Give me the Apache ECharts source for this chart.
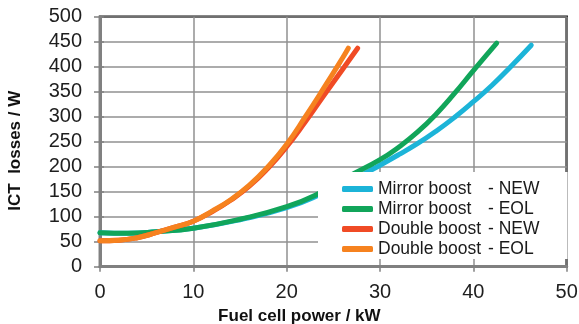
<!DOCTYPE html>
<html>
<head>
<meta charset="utf-8">
<style>html,body{margin:0;padding:0;background:#fff}#c{width:579px;height:324px}</style>
<script src="https://cdn.jsdelivr.net/npm/echarts@6/dist/echarts.min.js"></script>
</head>
<body>
<div id="c"></div>
<script>
// Data
const xTicks = [0, 10, 20, 30, 40, 50];
const yTicks = [0, 50, 100, 150, 200, 250, 300, 350, 400, 450, 500];
const seriesNames = ['Mirror boost|- NEW', 'Mirror boost|- EOL', 'Double boost|- NEW', 'Double boost|- EOL'];
const mirrorNew = [[0,68],[3,67],[6,70],[10,77],[15,94],[20,118],[24,148],[28,183],[30,203],[32,224],[34,246],[36,271],[38,299],[40,330],[42,363],[44,400],[46.2,443]];
const mirrorEol = [[0,68],[3,67],[6,70],[10,77],[15,95],[20,120],[23.5,147],[26.5,179],[30,214],[32,239],[34,269],[36,305],[38,347],[40,392],[42.5,447]];
const doubleNew = [[0,52],[2,53],[4,58],[6,68],[8,79],[10,91],[12,110],[14,133],[16,161],[18,197],[20,240],[22,290],[24,343],[26,395],[27.6,437]];
const doubleEol = [[0,52],[2,53],[4,58],[6,68],[8,79],[10,91],[12,111],[14,134],[16,163],[18,200],[20,245],[22,300],[24,358],[26,418],[26.6,437]];
const colors = ['#1cb4d8', '#11a55a', '#f04b25', '#f6821f'];

const font = '"Liberation Sans", Arial, sans-serif';
const chart = echarts.init(document.getElementById('c'));
const allData = [mirrorNew, mirrorEol, doubleNew, doubleEol];

chart.setOption({
  animation: false,
  backgroundColor: '#fff',
  grid: { left: 100, right: 12.3, top: 16.7, bottom: 57.3, show: true, borderColor: '#111', borderWidth: 2.5, containLabel: false, outerBoundsMode: 'none' },
  xAxis: [{
    type: 'value', min: xTicks[0], max: xTicks[xTicks.length - 1], interval: 10,
    name: 'Fuel cell power / kW', nameLocation: 'middle', nameGap: 38,
    nameTextStyle: { fontFamily: font, fontWeight: 'bold', fontSize: 17, color: '#111', padding: [0, 68, 0, 0] },
    axisLine: { show: true, onZero: false, lineStyle: { color: '#808080', width: 3 } },
    axisTick: { show: true, inside: false, length: 5, lineStyle: { color: '#808080', width: 1.5 } },
    axisLabel: { fontFamily: font, fontSize: 20, color: '#1e1e1e', margin: 16 },
    splitLine: { show: true, lineStyle: { color: '#919191', width: 1.5 } }
  }],
  yAxis: [{
    type: 'value', min: yTicks[0], max: yTicks[yTicks.length - 1], interval: 50,
    name: 'ICT  losses / W', nameLocation: 'middle', nameGap: 76, nameRotate: 90,
    nameTextStyle: { fontFamily: font, fontWeight: 'bold', fontSize: 17, color: '#111', padding: [0, 18, 0, 0] },
    axisLine: { show: true, onZero: false, lineStyle: { color: '#808080', width: 3 } },
    axisTick: { show: true, inside: false, length: 6, lineStyle: { color: '#808080', width: 1.5 } },
    axisLabel: { fontFamily: font, fontSize: 20, color: '#1e1e1e', margin: 18 },
    splitLine: { show: true, lineStyle: { color: '#919191', width: 1.5 } }
  }, {
    type: 'value', min: yTicks[0], max: yTicks[yTicks.length - 1], interval: 50, position: 'right',
    axisLine: { show: false },
    axisTick: { show: true, inside: false, length: 4, lineStyle: { color: '#808080', width: 1.5 } },
    axisLabel: { show: false },
    splitLine: { show: false }
  }],
  legend: {
    orient: 'vertical', left: 318, top: 172,
    padding: [8, 28, 1, 24], itemGap: 2,
    backgroundColor: '#fff',
    itemWidth: 31, itemHeight: 6, icon: 'roundRect',
    data: seriesNames,
    formatter: function (n) { const p = n.split('|'); return '{a|' + p[0] + '}{b|' + p[1] + '}'; },
    textStyle: {
      fontFamily: font, fontSize: 17.5, color: '#1a1a1a',
      rich: {
        a: { width: 110, fontFamily: font, fontSize: 17.5, lineHeight: 20, color: '#1a1a1a' },
        b: { fontFamily: font, fontSize: 17.5, lineHeight: 20, color: '#1a1a1a' }
      }
    }
  },
  series: seriesNames.map(function (n, i) {
    return {
      name: n, type: 'line', data: allData[i], smooth: 0.5, showSymbol: false, symbol: 'none',
      color: colors[i],
      lineStyle: { color: colors[i], width: 5, cap: 'round', join: 'round' },
      z: 2 + i
    };
  })
});
</script>
</body>
</html>
